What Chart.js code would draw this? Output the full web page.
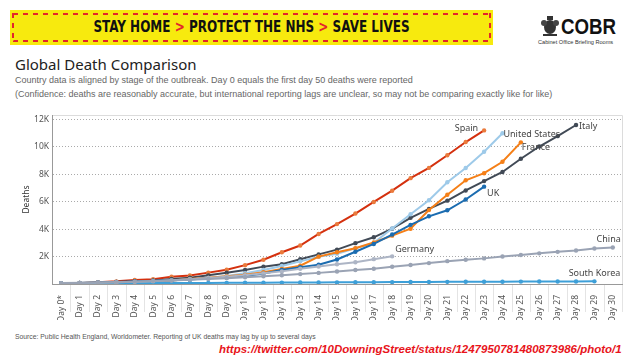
<!DOCTYPE html>
<html>
<head>
<meta charset="utf-8">
<script src="https://cdn.jsdelivr.net/npm/chart.js@4.4.1/dist/chart.umd.min.js"></script>
<style>
  body { margin: 0; width: 640px; height: 360px; background: #fff; position: relative; overflow: hidden; font-family: "Liberation Sans", Arial, sans-serif; }
  .banner { position: absolute; left: 10px; top: 10px; width: 483px; height: 35px; background: #f7ea0e; }
  .banner .dash { position: absolute; left: 3px; right: 3px; height: 2px;
    background: repeating-linear-gradient(90deg, #e3262b 0 5px, transparent 5px 10px); transform: skewX(-40deg); }
  .banner .side { position: absolute; top: 3px; bottom: 3px; width: 2px;
    background: repeating-linear-gradient(180deg, #e3262b 0 5px, transparent 5px 10px); }
  .banner .txt { position: absolute; left: 0; right: 0; top: 0; line-height: 35px; text-align: center;
    font-family: "Liberation Sans Narrow", "DejaVu Sans Condensed", sans-serif; font-weight: bold; font-size: 15px; color: #111;
    transform: scaleX(0.89); }
  .banner .txt b { color: #e3262b; }
  .logo { position: absolute; left: 561px; top: 14px; font-family: "Liberation Sans Narrow", sans-serif; font-weight: bold; font-size: 22px; color: #111;
    transform: scaleX(0.85); transform-origin: left center; }
  .logosub { position: absolute; left: 538px; top: 39px; font-size: 5.6px; color: #333; }
  .crest { position: absolute; left: 539px; top: 15px; }
  .title { position: absolute; left: 15px; top: 55px; font-family: "Noto Sans", sans-serif; font-size: 15px; line-height: 18px; color: #222; }
  .sub { position: absolute; left: 15px; font-size: 9px; line-height: 11px; color: #666; white-space: nowrap; }
  .foot { position: absolute; left: 15px; top: 333px; font-size: 6.8px; color: #555; white-space: nowrap; }
  .url { position: absolute; left: 219px; top: 343px; font-size: 11.5px; font-style: italic; font-weight: bold; color: #e8141b; white-space: nowrap; }
  #wrap { position: absolute; left: 0; top: 100px; width: 640px; height: 220px; }
</style>
</head>
<body>
<div class="banner">
  <div class="dash" style="top:3px"></div>
  <div class="dash" style="bottom:3px"></div>
  <div class="side" style="left:2px"></div>
  <div class="side" style="right:2px"></div>
  <div class="txt">STAY HOME <b>&gt;</b> PROTECT THE NHS <b>&gt;</b> SAVE LIVES</div>
</div>
<svg class="crest" width="22" height="22" viewBox="0 0 22 22">
  <ellipse cx="11" cy="12" rx="6" ry="7" fill="#333"/>
  <circle cx="5" cy="8" r="3" fill="#444"/>
  <circle cx="17" cy="8" r="3" fill="#444"/>
  <rect x="8" y="1" width="6" height="4" fill="#333"/>
  <rect x="4" y="19" width="14" height="2" fill="#333"/>
</svg>
<div class="logo">COBR</div>
<div class="logosub">Cabinet Office Briefing Rooms</div>
<div class="title">Global Death Comparison</div>
<div class="sub" style="top:75px">Country data is aligned by stage of the outbreak. Day 0 equals the first day 50 deaths were reported</div>
<div class="sub" style="top:89px">(Confidence: deaths are reasonably accurate, but international reporting lags are unclear, so may not be comparing exactly like for like)</div>
<div id="wrap"><canvas id="chart"></canvas></div>
<div class="foot">Source: Public Health England, Worldometer. Reporting of UK deaths may lag by up to several days</div>
<div class="url">https://twitter.com/10DowningStreet/status/1247950781480873986/photo/1</div>

<script>
const dayLabels = ["Day 0*", "Day 1", "Day 2", "Day 3", "Day 4", "Day 5", "Day 6", "Day 7", "Day 8", "Day 9",
  "Day 10", "Day 11", "Day 12", "Day 13", "Day 14", "Day 15", "Day 16", "Day 17", "Day 18", "Day 19",
  "Day 20", "Day 21", "Day 22", "Day 23", "Day 24", "Day 25", "Day 26", "Day 27", "Day 28", "Day 29", "Day 30"];

const spainDeaths = [54, 55, 133, 195, 289, 342, 533, 623, 830, 1043, 1375, 1772, 2311, 2808, 3647, 4365,
  5138, 5982, 6803, 7716, 8464, 9387, 10348, 11198];
const usDeaths = [57, 68, 86, 108, 150, 205, 260, 350, 440, 590, 790, 1020, 1310, 1650, 1990, 2200,
  2600, 3000, 4050, 5090, 6100, 7420, 8460, 9640, 10990];
const franceDeaths = [61, 79, 91, 127, 148, 175, 264, 372, 450, 562, 674, 860, 1100, 1331, 1995, 2314,
  2606, 3024, 3523, 4032, 5387, 6507, 7560, 8078, 8911, 10328];
const italyDeaths = [52, 79, 107, 148, 197, 233, 366, 463, 631, 827, 1016, 1266, 1441, 1809, 2158, 2503,
  2978, 3405, 4032, 4825, 5476, 6077, 6820, 7503, 8165, 9134, 10023, 10779, 11591];
const ukDeaths = [55, 71, 104, 144, 177, 233, 281, 335, 422, 465, 578, 759, 1019, 1228, 1408, 1789,
  2352, 2921, 3605, 4313, 4934, 5373, 6159, 7097];
const germanyDeaths = [67, 84, 94, 123, 157, 206, 267, 342, 433, 533, 645, 775, 920, 1107, 1275, 1444,
  1584, 1810, 2016];
const chinaDeaths = [56, 80, 106, 132, 170, 213, 259, 304, 361, 425, 490, 562, 636, 722, 811, 908, 1016,
  1113, 1259, 1380, 1523, 1665, 1770, 1868, 2004, 2118, 2236, 2345, 2442, 2592, 2663];
const koreaDeaths = [51, 54, 60, 66, 67, 72, 75, 75, 81, 84, 91, 94, 102, 104, 111, 120, 126, 131, 139,
  144, 152, 158, 162, 165, 169, 174, 177, 183, 186, 192];

const yTicks = [2000, 4000, 6000, 8000, 10000, 12000];

// where each country's name sits next to its last point
const endLabels = {
  "Spain": { dx: -6, dy: -2, align: "right" },
  "United States": { dx: 1, dy: 1, align: "left" },
  "France": { dx: 1, dy: 5, align: "left" },
  "Italy": { dx: 3, dy: 1, align: "left" },
  "UK": { dx: 3, dy: 7, align: "left" },
  "Germany": { dx: 3, dy: -7, align: "left" },
  "China": { dx: 8, dy: -8, align: "right" },
  "South Korea": { dx: 26, dy: -8, align: "right" },
};

function series(label, data, line, point) {
  return {
    label: label,
    data: data,
    borderColor: line,
    backgroundColor: point || line,
    pointBackgroundColor: point || line,
    pointBorderColor: point || line,
    borderWidth: 2,
    pointRadius: 2.2,
    pointBorderWidth: 0,
    tension: 0,
  };
}

const frame = {
  id: "frame",
  beforeDraw(chart) {
    const { ctx, chartArea } = chart;
    const x = chart.scales.x;
    ctx.save();
    ctx.strokeStyle = "#dcdcdc";
    ctx.lineWidth = 1;
    ctx.beginPath();
    ctx.moveTo(chartArea.left, chartArea.top + 0.5);
    ctx.lineTo(chartArea.right + 0.5, chartArea.top + 0.5);
    ctx.lineTo(chartArea.right + 0.5, chartArea.bottom);
    ctx.stroke();
    // separators between the day headers
    ctx.strokeStyle = "#e4e4e4";
    ctx.beginPath();
    for (let i = 0; i < dayLabels.length; i++) {
      const px = Math.round((x.getPixelForValue(i) + x.getPixelForValue(i + 1)) / 2) + 0.5;
      ctx.moveTo(px, chartArea.bottom);
      ctx.lineTo(px, chartArea.bottom + 28);
    }
    ctx.stroke();
    ctx.restore();
  },
  afterDatasetsDraw(chart) {
    const { ctx } = chart;
    ctx.save();
    ctx.font = "9px 'Noto Sans', sans-serif";
    ctx.fillStyle = "#444";
    ctx.textBaseline = "middle";
    chart.data.datasets.forEach((ds, i) => {
      const pts = chart.getDatasetMeta(i).data;
      const last = pts[pts.length - 1];
      const o = endLabels[ds.label];
      ctx.textAlign = o.align;
      ctx.fillText(ds.label, last.x + o.dx, last.y + o.dy);
    });
    ctx.restore();
  },
};

new Chart(document.getElementById("chart"), {
  type: "line",
  data: {
    labels: dayLabels,
    datasets: [
      series("China", chinaDeaths, "#9aa3b4"),
      series("Germany", germanyDeaths, "#adb5c5"),
      series("South Korea", koreaDeaths, "#3d9fd8"),
      series("UK", ukDeaths, "#1b6cb0"),
      series("France", franceDeaths, "#f57f17"),
      series("United States", usDeaths, "#9ecae9"),
      series("Italy", italyDeaths, "#414a56"),
      series("Spain", spainDeaths, "#d4300e", "#ea7a3c"),
    ],
  },
  options: {
    responsive: true,
    maintainAspectRatio: false,
    animation: false,
    layout: { padding: { top: 15, right: 18, left: 0, bottom: 0 } },
    plugins: { legend: { display: false }, tooltip: { enabled: false } },
    scales: {
      x: {
        offset: true,
        grid: { display: false },
        border: { display: true, color: "#999" },
        ticks: {
          autoSkip: false, minRotation: 90, maxRotation: 90, padding: 3,
          color: "#555", font: { family: "'Noto Sans', sans-serif", size: 8.5 },
        },
        afterFit(scale) { scale.height = 36; },
      },
      y: {
        min: 0,
        max: 12320,
        afterBuildTicks(scale) { scale.ticks = yTicks.map((v) => ({ value: v })); },
        grid: { color: "#aaa", drawTicks: false },
        border: { display: true, color: "#999", dash: [1, 2] },
        ticks: {
          padding: 3, color: "#555", font: { family: "'Noto Sans', sans-serif", size: 8.5 },
          callback: (v) => v / 1000 + "K",
        },
        title: {
          display: true, text: "Deaths", color: "#333",
          font: { family: "'Noto Sans', sans-serif", size: 8.5 },
          padding: { top: 21, bottom: 0 },
        },
        afterFit(scale) { scale.width = 52; },
      },
    },
  },
  plugins: [frame],
});
</script>
</body>
</html>
